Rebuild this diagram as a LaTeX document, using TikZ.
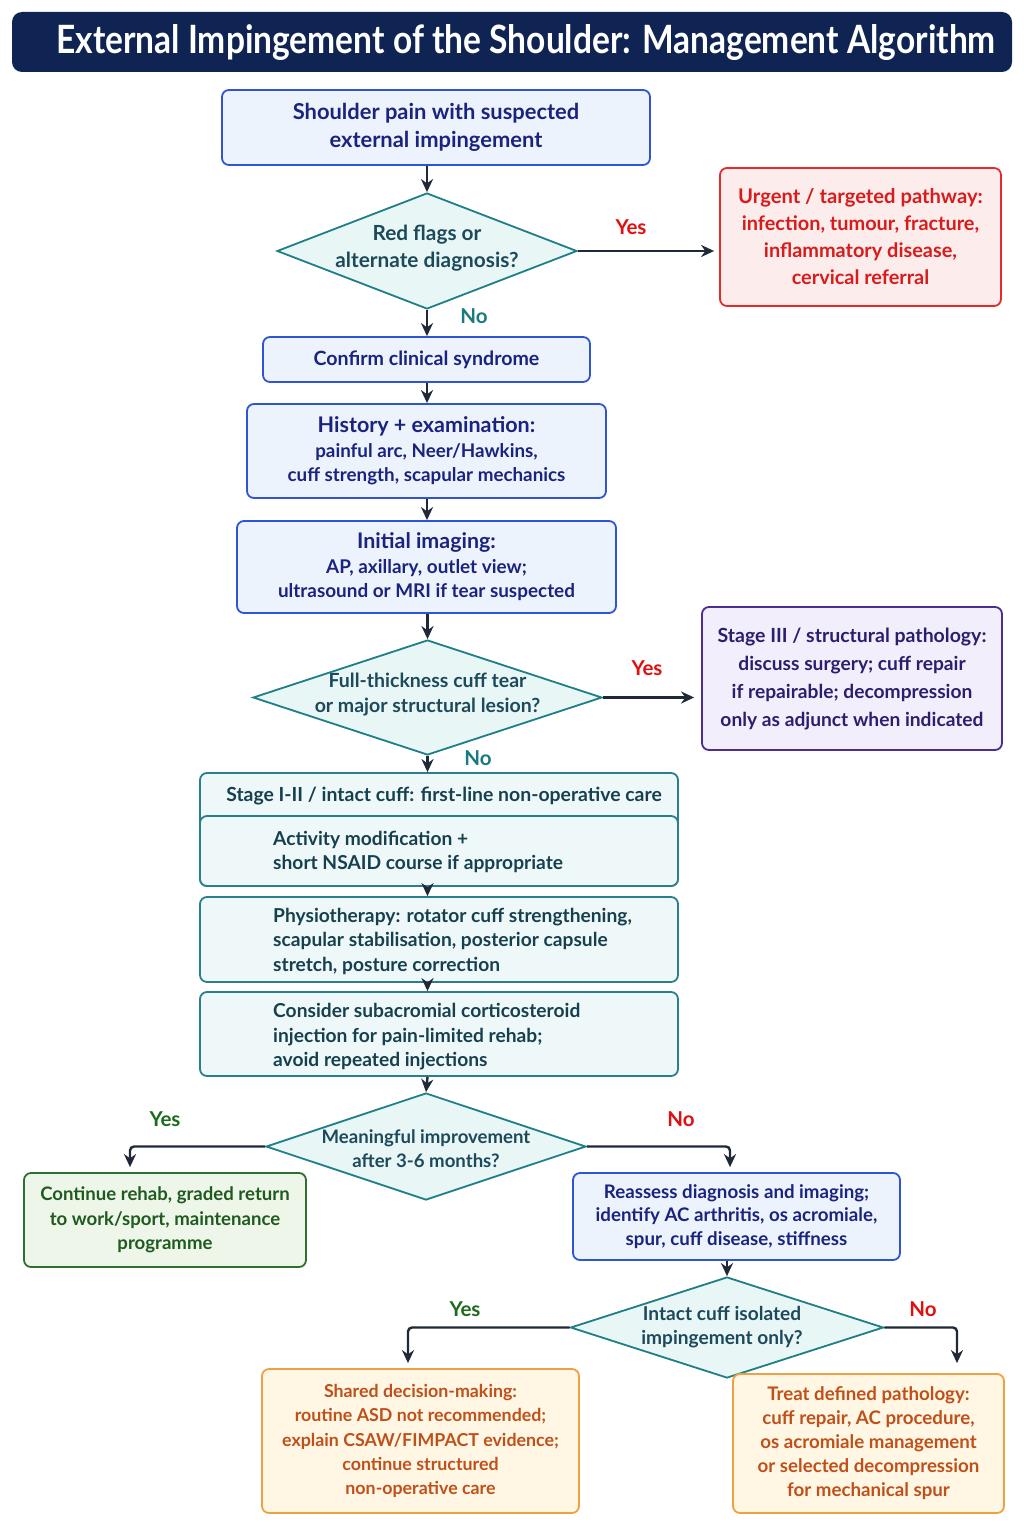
\documentclass[tikz,border=0pt]{standalone}
\usepackage{fontspec}
\setmainfont{Lato}
\newfontfamily\titlefont{Lato}[FakeStretch=0.86]
\usetikzlibrary{shapes.geometric,arrows.meta,calc}
\definecolor{navy}{HTML}{0F2452}
\definecolor{bbord}{HTML}{2F55D4}
\definecolor{bfill}{HTML}{ECF3FD}
\definecolor{btext}{HTML}{1A237E}
\definecolor{tbord}{HTML}{1F7F86}
\definecolor{tfill}{HTML}{E8F6F6}
\definecolor{ttext}{HTML}{1D4A5B}
\definecolor{rbord}{HTML}{E32B2B}
\definecolor{rfill}{HTML}{FDECEC}
\definecolor{rtext}{HTML}{D81B1B}
\definecolor{pbord}{HTML}{4B2C91}
\definecolor{pfill}{HTML}{F2EEFB}
\definecolor{ptext}{HTML}{2A1F6E}
\definecolor{sbord}{HTML}{2A7F8C}
\definecolor{sfill}{HTML}{EEF8F8}
\definecolor{stext}{HTML}{17404F}
\definecolor{gbord}{HTML}{2F6F2F}
\definecolor{gfill}{HTML}{EEF6EA}
\definecolor{gtext}{HTML}{1F5A1F}
\definecolor{obord}{HTML}{F0A040}
\definecolor{ofill}{HTML}{FFF6E4}
\definecolor{otext}{HTML}{C0501A}
\definecolor{arr}{HTML}{1F2937}
\definecolor{noteal}{HTML}{1A7A80}
\definecolor{yesred}{HTML}{E01010}
\definecolor{yesgreen}{HTML}{1E6B1E}
\tikzset{
  box/.style={draw, rounded corners=7pt, line width=1.8pt, align=center, inner sep=0pt,
    font=\bfseries\fontsize{19}{25}\selectfont},
  bluebox/.style={box, draw=bbord, fill=bfill, text=btext},
  redbox/.style={box, draw=rbord, fill=rfill, text=rtext},
  purplebox/.style={box, draw=pbord, fill=pfill, text=ptext},
  stagebox/.style={box, draw=sbord, fill=sfill, text=stext, minimum width=478pt},
  greenbox/.style={box, draw=gbord, fill=gfill, text=gtext},
  orangebox/.style={box, draw=obord, fill=ofill, text=otext},
  decision/.style={diamond, draw=tbord, fill=tfill, line width=1.8pt, inner sep=0pt},
  dtext/.style={align=center, inner sep=0pt, text=ttext, font=\bfseries\fontsize{19}{25}\selectfont},
  stagetext/.style={anchor=west, align=left, inner sep=0pt, text=stext,
    font=\bfseries\fontsize{19.2}{24.5}\selectfont},
  flow/.style={draw=arr, line width=2.4pt, -{Stealth[length=13pt,width=12pt]}},
  lbl/.style={font=\bfseries\fontsize{20.5}{22}\selectfont, inner sep=0pt},
}
\begin{document}
\begin{tikzpicture}[x=1pt,y=-1pt]
\useasboundingbox[fill=white] (0,0) rectangle (1024,1536);
% title
\node[fill=navy, rounded corners=10pt, minimum width=1000pt, minimum height=60pt, inner sep=0pt] (title) at (512,42) {};
\node[text=white, inner sep=0pt, font=\titlefont\bfseries\fontsize{39}{42}\selectfont] (titletext) at (526,43)
  {External Impingement of the Shoulder: Management Algorithm};
% top part
\node[bluebox, minimum width=428pt, minimum height=75pt, font=\bfseries\fontsize{21.9}{28}\selectfont] (b1) at (436,127.5)
  {Shoulder pain with suspected\\external impingement};
\node[decision, minimum width=300pt, minimum height=116pt] (d1) at (427,251) {};
\node[dtext, font=\bfseries\fontsize{20.8}{27}\selectfont] (d1t) at (427,248) {Red flags or\\alternate diagnosis?};
\node[redbox, minimum width=281pt, minimum height=138pt, font=\bfseries\fontsize{19.9}{27}\selectfont] (red) at (860.5,237)
  {{\fontsize{20.2}{27}\selectfont Urgent / targeted pathway:}\\infection, tumour, fracture,\\inflammatory disease,\\cervical referral};
\node[bluebox, minimum width=327pt, minimum height=45pt, font=\bfseries\fontsize{19.6}{25}\selectfont] (b2) at (426.5,359.5)
  {Confirm clinical syndrome};
\node[bluebox, minimum width=359pt, minimum height=94pt, font=\bfseries\fontsize{18.8}{24.5}\selectfont] (b3) at (426.5,451)
  {{\fontsize{21.5}{24.5}\selectfont History + examination:}\\painful arc, Neer/Hawkins,\\cuff strength, scapular mechanics};
\node[bluebox, minimum width=379pt, minimum height=92pt, font=\bfseries\fontsize{18.9}{24.5}\selectfont] (b4) at (426.5,567)
  {{\fontsize{21.4}{24.5}\selectfont Initial imaging:}\\AP, axillary, outlet view;\\ultrasound or MRI if tear suspected};
\node[decision, minimum width=349pt, minimum height=115pt] (d2) at (427.5,697.5) {};
\node[dtext, font=\bfseries\fontsize{19.5}{25}\selectfont] (d2t) at (427.5,695) {Full-thickness cuff tear\\or major structural lesion?};
\node[purplebox, minimum width=300pt, minimum height=143pt, font=\bfseries\fontsize{19.2}{28}\selectfont] (pur) at (852,678.5)
  {{\fontsize{19.5}{28}\selectfont Stage III / structural pathology:}\\discuss surgery; cuff repair\\if repairable; decompression\\only as adjunct when indicated};
% stage block
\node[stagebox, minimum height=113pt] (stage) at (439,829.5) {};
\node[text=stext, font=\bfseries\fontsize{19.4}{24}\selectfont, inner sep=0pt] (stagehead) at (444,796)
  {Stage I-II / intact cuff: first-line non-operative care};
\node[stagebox, minimum height=70pt] (act) at (439,851) {};
\node[stagetext] (acttext) at (273,852) {Activity modification +\\short NSAID course if appropriate};
\node[stagebox, minimum height=85pt] (phys) at (439,939.5) {};
\node[stagetext] (phystext) at (273,941) {Physiotherapy: rotator cuff strengthening,\\scapular stabilisation, posterior capsule\\stretch, posture correction};
\node[stagebox, minimum height=84pt] (inj) at (439,1034) {};
\node[stagetext] (injtext) at (273,1037) {Consider subacromial corticosteroid\\injection for pain-limited rehab;\\avoid repeated injections};
% lower
\node[decision, minimum width=320pt, minimum height=107pt] (d3) at (426,1146.5) {};
\node[dtext, font=\bfseries\fontsize{18.6}{24}\selectfont] (d3t) at (426,1149) {Meaningful improvement\\after 3-6 months?};
\node[greenbox, minimum width=282pt, minimum height=94pt, font=\bfseries\fontsize{18.6}{24.5}\selectfont] (green) at (165,1220)
  {Continue rehab, graded return\\to work/sport, maintenance\\programme};
\node[bluebox, minimum width=327pt, minimum height=87pt, font=\bfseries\fontsize{18.7}{23.5}\selectfont] (re) at (736.5,1216.5)
  {Reassess diagnosis and imaging;\\identify AC arthritis, os acromiale,\\spur, cuff disease, stiffness};
\node[decision, minimum width=313pt, minimum height=101pt] (d4) at (727,1327.5) {};
\node[dtext, font=\bfseries\fontsize{19.1}{24}\selectfont] (d4t) at (722,1327) {Intact cuff isolated\\impingement only?};
\node[orangebox, minimum width=317pt, minimum height=144pt, font=\bfseries\fontsize{17.8}{24.2}\selectfont] (oL) at (420.5,1441)
  {Shared decision-making:\\routine ASD not recommended;\\explain CSAW/FIMPACT evidence;\\continue structured\\non-operative care};
\node[orangebox, minimum width=271pt, minimum height=139pt, font=\bfseries\fontsize{18.7}{24}\selectfont] (oR) at (868.5,1443.5)
  {Treat defined pathology:\\cuff repair, AC procedure,\\os acromiale management\\or selected decompression\\for mechanical spur};
% connectors
\draw[flow] (d1.north |- b1.south) -- (d1.north);
\draw[flow, shorten >=5pt] (d1.east) -- (d1.east -| red.west);
\node[lbl, text=yesred] (y1) at (631,227) {Yes};
\draw[flow] (d1.south) -- (d1.south |- b2.north);
\node[lbl, text=noteal] (n1) at (474,316) {No};
\draw[flow] (d1.south |- b2.south) -- (d1.south |- b3.north);
\draw[flow] (d1.south |- b3.south) -- (d1.south |- b4.north);
\draw[flow] (d2.north |- b4.south) -- (d2.north);
\draw[flow, shorten >=7pt] (d2.east) -- (d2.east -| pur.west);
\node[lbl, text=yesred] (y2) at (647,668) {Yes};
\draw[flow] (d2.south) -- (d2.south |- stage.north);
\node[lbl, text=noteal] (n2) at (478,758) {No};
\draw[flow] (d2.south |- act.south) -- (d2.south |- phys.north);
\draw[flow] (d2.south |- phys.south) -- (d2.south |- inj.north);
\draw[flow] (d2.south |- inj.south) -- (d3.north);
\draw[flow, rounded corners=4pt, shorten >=5pt] (d3.west) -| ([xshift=-35pt]green.north);
\node[lbl, text=yesgreen] (y3) at (165,1119) {Yes};
\draw[flow, rounded corners=4pt, shorten >=5pt] (d3.east) -| ([xshift=-6.5pt]re.north);
\node[lbl, text=yesred] (n3) at (681,1119) {No};
\draw[flow] (d4.north |- re.south) -- (d4.north);
\draw[flow, rounded corners=4pt, shorten >=5pt] (d4.west) -| ([xshift=-12.5pt]oL.north);
\node[lbl, text=yesgreen] (y4) at (465,1309) {Yes};
\draw[flow, rounded corners=4pt, shorten >=10pt] (d4.east) -| ([xshift=88.5pt]oR.north);
\node[lbl, text=yesred] (n4) at (923,1309) {No};
\end{tikzpicture}
\end{document}
